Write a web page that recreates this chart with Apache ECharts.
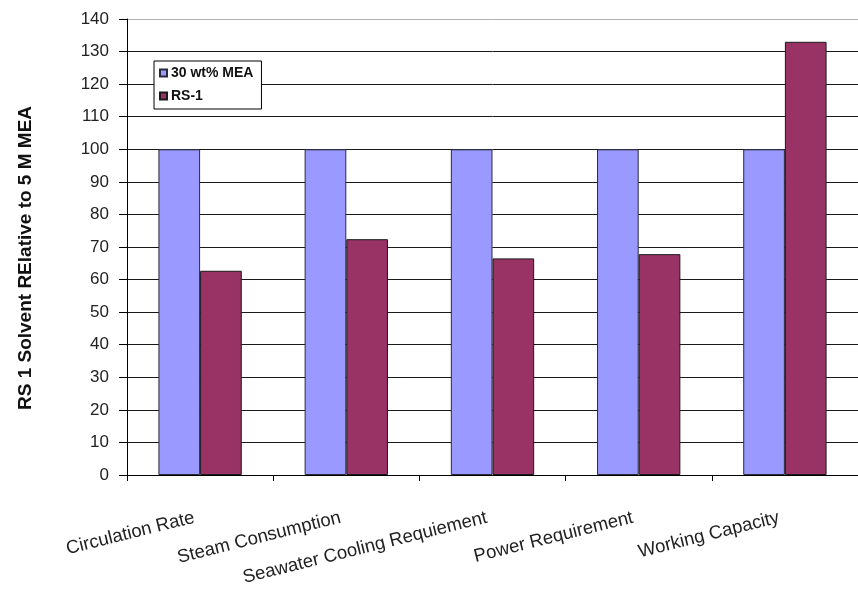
<!DOCTYPE html>
<html>
<head>
<meta charset="utf-8">
<script src="https://cdn.jsdelivr.net/npm/echarts@6/dist/echarts.min.js"></script>
<style>
  html, body { margin: 0; padding: 0; background: #fff; }
  #chart { width: 858px; height: 595px; }
</style>
</head>
<body>
<div id="chart"></div>
<script>
// Solvent performance relative to the MEA baseline
const categories = ['Circulation Rate', 'Steam Consumption', 'Seawater Cooling Requiement', 'Power Requirement', 'Working Capacity'];
const meaValues = [100, 100, 100, 100, 100];
const rs1Values = [62.7, 72.4, 66.5, 67.8, 133];
const seriesNames = ['30 wt% MEA', 'RS-1'];

const FONT = '"Liberation Sans", Arial, Helvetica, sans-serif';

// Gridline colours per tick (0..140); the topmost line is lighter
const gridColors = [];
for (let v = 0; v <= 140; v += 10) gridColors.push(v === 140 ? '#b0b0b0' : '#1a1a1a');

const chart = echarts.init(document.getElementById('chart'), null, { renderer: 'canvas' });
chart.setOption({
  animation: false,
  backgroundColor: '#ffffff',
  grid: { left: 127, width: 737, top: 19, bottom: 120, containLabel: false },
  legend: {
    orient: 'vertical',
    left: 154,
    top: 61,
    padding: [5, 8, 6, 5],
    itemGap: 9,
    itemWidth: 7,
    itemHeight: 7,
    borderColor: '#000',
    borderWidth: 1,
    backgroundColor: '#fff',
    icon: 'rect',
    textStyle: { fontFamily: FONT, fontSize: 14, fontWeight: 'bold', color: '#111', padding: [0, 0, 0, -1] },
    data: seriesNames
  },
  xAxis: {
    type: 'category',
    data: categories,
    axisLine: { lineStyle: { color: '#000', width: 1 } },
    axisTick: { show: true, length: 6, alignWithLabel: false, lineStyle: { color: '#000' } },
    axisLabel: {
      interval: 0,
      rotate: 14,
      margin: 41,
      padding: [0, 6, 0, 0],
      fontFamily: FONT,
      fontSize: 18.5,
      color: '#222'
    },
    splitLine: { show: false }
  },
  yAxis: {
    type: 'value',
    min: 0,
    max: 140,
    interval: 10,
    name: 'RS 1 Solvent RElative to 5 M MEA',
    nameLocation: 'middle',
    nameGap: 92,
    nameTextStyle: { fontFamily: FONT, fontSize: 19, fontWeight: 'bold', color: '#111', padding: [0, 0, 0, -22] },
    axisLine: { show: true, lineStyle: { color: '#000', width: 1 } },
    axisTick: { show: true, length: 8, inside: false, lineStyle: { color: '#000' } },
    axisLabel: { fontFamily: FONT, fontSize: 17, color: '#222', margin: 18 },
    splitLine: { show: true, lineStyle: { color: gridColors, width: 1 } }
  },
  series: [
    {
      name: seriesNames[0],
      type: 'bar',
      data: meaValues,
      barGap: '0%',
      barCategoryGap: '43%',
      itemStyle: { color: '#9999ff', borderColor: '#2a2a3a', borderWidth: 1 }
    },
    {
      name: seriesNames[1],
      type: 'bar',
      data: rs1Values,
      itemStyle: { color: '#993366', borderColor: '#1a1a1a', borderWidth: 1 }
    }
  ]
});
</script>
</body>
</html>
